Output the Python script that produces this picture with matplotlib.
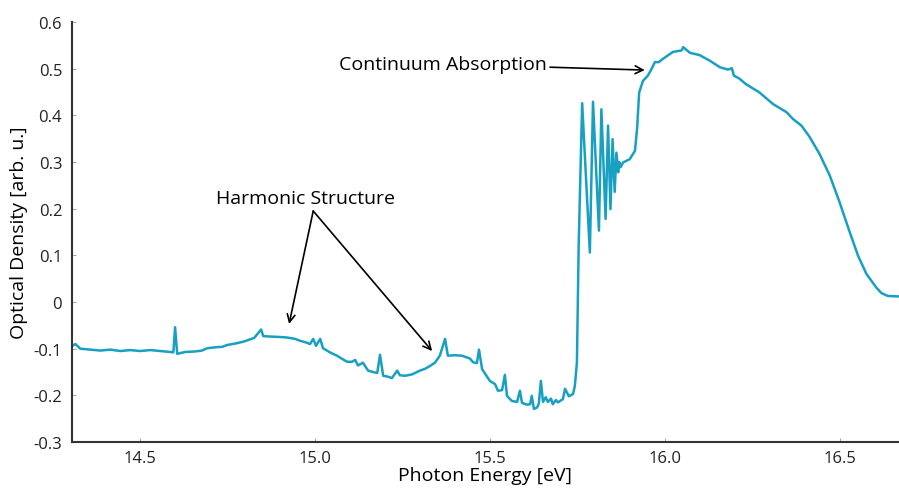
import numpy as np
import matplotlib
matplotlib.use("Agg")
import matplotlib.pyplot as plt

plt.rcParams['font.family'] = ['Open Sans', 'DejaVu Sans']

# photon energy [eV] and optical density [arb. u.]
energy = [
    14.306, 14.315, 14.329, 14.357, 14.386, 14.415, 14.443, 14.472, 14.500, 14.529,
    14.557, 14.586, 14.595, 14.600, 14.606, 14.629, 14.657, 14.677, 14.692, 14.715,
    14.735, 14.749, 14.772, 14.795, 14.815, 14.826, 14.835, 14.846, 14.852, 14.872,
    14.901, 14.920, 14.943, 14.957, 14.972, 14.986, 14.995, 15.003, 15.015, 15.023,
    15.043, 15.063, 15.078, 15.092, 15.106, 15.115, 15.123, 15.137, 15.152, 15.166,
    15.178, 15.186, 15.195, 15.209, 15.220, 15.235, 15.243, 15.258, 15.278, 15.300,
    15.315, 15.329, 15.343, 15.357, 15.372, 15.380, 15.400, 15.420, 15.443, 15.452,
    15.463, 15.469, 15.478, 15.492, 15.500, 15.515, 15.523, 15.535, 15.543, 15.549,
    15.563, 15.578, 15.586, 15.592, 15.606, 15.615, 15.620, 15.626, 15.635, 15.640,
    15.646, 15.652, 15.660, 15.666, 15.675, 15.680, 15.689, 15.695, 15.709, 15.715,
    15.726, 15.738, 15.743, 15.749, 15.754, 15.764, 15.786, 15.795, 15.812, 15.819,
    15.831, 15.838, 15.845, 15.851, 15.857, 15.862, 15.867, 15.870, 15.874, 15.881,
    15.900, 15.915, 15.921, 15.927, 15.938, 15.952, 15.962, 15.972, 15.983, 15.995,
    16.024, 16.048, 16.053, 16.072, 16.100, 16.129, 16.158, 16.181, 16.192, 16.198,
    16.213, 16.232, 16.271, 16.310, 16.348, 16.367, 16.391, 16.415, 16.443, 16.472,
    16.500, 16.529, 16.553, 16.577, 16.605, 16.620, 16.638, 16.669,
]
od = [
    -0.094, -0.090, -0.100, -0.102, -0.104, -0.102, -0.105, -0.103, -0.105, -0.103,
    -0.105, -0.107, -0.108, -0.054, -0.111, -0.107, -0.106, -0.104, -0.099, -0.097,
    -0.096, -0.092, -0.089, -0.085, -0.080, -0.077, -0.069, -0.059, -0.073, -0.074,
    -0.075, -0.076, -0.079, -0.083, -0.086, -0.090, -0.079, -0.094, -0.079, -0.099,
    -0.108, -0.115, -0.122, -0.128, -0.128, -0.124, -0.136, -0.130, -0.147, -0.150,
    -0.152, -0.113, -0.158, -0.160, -0.163, -0.147, -0.157, -0.158, -0.155, -0.147,
    -0.143, -0.137, -0.130, -0.115, -0.079, -0.115, -0.114, -0.115, -0.121, -0.129,
    -0.131, -0.102, -0.144, -0.160, -0.169, -0.176, -0.190, -0.189, -0.156, -0.201,
    -0.212, -0.214, -0.190, -0.216, -0.220, -0.219, -0.201, -0.229, -0.226, -0.218,
    -0.169, -0.214, -0.204, -0.214, -0.207, -0.219, -0.210, -0.215, -0.208, -0.186,
    -0.202, -0.197, -0.180, -0.130, 0.120, 0.426, 0.106, 0.429, 0.153, 0.413,
    0.178, 0.378, 0.199, 0.349, 0.236, 0.320, 0.278, 0.300, 0.289, 0.299,
    0.306, 0.324, 0.371, 0.449, 0.474, 0.485, 0.499, 0.514, 0.514, 0.521,
    0.536, 0.539, 0.546, 0.534, 0.529, 0.517, 0.503, 0.498, 0.501, 0.485,
    0.479, 0.467, 0.449, 0.424, 0.407, 0.392, 0.378, 0.353, 0.317, 0.271,
    0.214, 0.150, 0.099, 0.060, 0.031, 0.019, 0.013, 0.012,
]

xticks = [14.5, 15.0, 15.5, 16.0, 16.5]
xticklabels = ["14.5", "15.0", "15.5", "16.0", "16.5"]
yticks = [0.6, 0.5, 0.4, 0.3, 0.2, 0.1, 0.0, -0.1, -0.2, -0.3]
yticklabels = ["0.6", "0.5", "0.4", "0.3", "0.2", "0.1", "0", "-0.1", "-0.2", "-0.3"]

fig = plt.figure(figsize=(8.99, 4.89), dpi=100)
ax = fig.add_axes([0.080, 0.094, 0.920, 0.859])

ax.plot(energy, od, color="#18a0c2", lw=1.8)

ax.set_xlim(14.305, 16.67)
ax.set_ylim(-0.3, 0.6)
ax.set_xticks(xticks)
ax.set_xticklabels(xticklabels)
ax.set_yticks(yticks)
ax.set_yticklabels(yticklabels)
ax.tick_params(direction="in", length=3, width=0.8, color="#aaaaaa",
               labelsize=12, labelcolor="#222222")
ax.tick_params(axis="y", pad=7)
ax.tick_params(axis="x", pad=6)
ax.spines["top"].set_visible(False)
ax.spines["right"].set_visible(False)
for s in ["left", "bottom"]:
    ax.spines[s].set_linewidth(1.5)
    ax.spines[s].set_color("#333333")

ax.set_xlabel("Photon Energy [eV]", fontsize=14, labelpad=0)
ax.set_ylabel("Optical Density [arb. u.]", fontsize=14, labelpad=4)

arrow = dict(arrowstyle="->", color="black", lw=1.2, mutation_scale=14,
             shrinkA=0, shrinkB=0)
ax.annotate("Continuum Absorption", xy=(15.943, 0.497), xytext=(15.664, 0.510),
            fontsize=14, ha="right", va="center", arrowprops=arrow)
ax.text(14.974, 0.222, "Harmonic Structure", fontsize=14, ha="center", va="center")
ax.annotate("", xy=(14.926, -0.047), xytext=(14.995, 0.195), arrowprops=arrow)
ax.annotate("", xy=(15.335, -0.105), xytext=(14.995, 0.195), arrowprops=arrow)

fig.savefig("out.png", dpi=100)
